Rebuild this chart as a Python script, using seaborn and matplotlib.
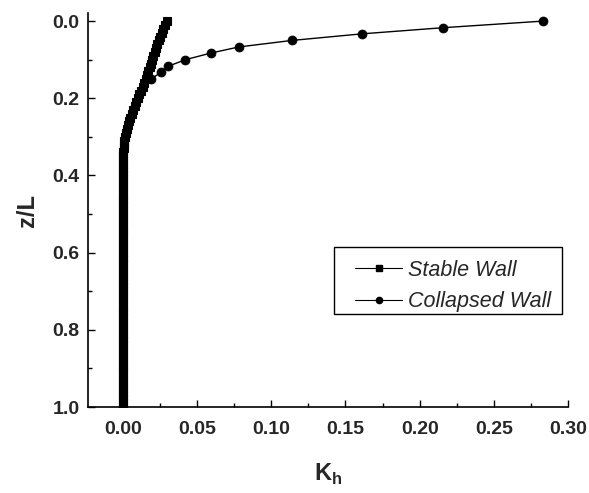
import matplotlib
matplotlib.use("Agg")
import matplotlib.pyplot as plt
import seaborn as sns
import numpy as np
import pandas as pd
from matplotlib.ticker import MultipleLocator
from matplotlib.lines import Line2D
from matplotlib.patches import Rectangle

# Stable wall: K_h sampled every 0.01 in z/L
z_stable = np.round(np.linspace(0.0, 1.0, 101), 2)
k_stable = [0.0295, 0.0284, 0.0273, 0.0262, 0.0251, 0.0240, 0.0231, 0.0222, 0.0213, 0.0204,
            0.0195, 0.0187, 0.0179, 0.0171, 0.0163, 0.0155, 0.0144, 0.0133, 0.0122, 0.0111,
            0.0100, 0.0090, 0.0080, 0.0070, 0.0060, 0.0050, 0.0042, 0.0034, 0.0027, 0.0021,
            0.0015, 0.0010, 0.0006, 0.0004, 0.0003, 0.0002] + [0.0] * 65

# Collapsed wall
z_collapsed = [0.0, 0.017, 0.033, 0.050, 0.067, 0.083, 0.100, 0.117, 0.133, 0.150]
k_collapsed = [0.283, 0.216, 0.161, 0.114, 0.078, 0.059, 0.042, 0.0305, 0.0255, 0.019]

x_ticks = [0.00, 0.05, 0.10, 0.15, 0.20, 0.25, 0.30]
y_ticks = [0.0, 0.2, 0.4, 0.6, 0.8, 1.0]
series_names = ["Stable Wall", "Collapsed Wall"]

stable = pd.DataFrame({"K": k_stable, "z": z_stable})
collapsed = pd.DataFrame({"K": k_collapsed, "z": z_collapsed})

sns.set_theme(style="ticks")
plt.rcParams["font.family"] = ["Liberation Sans", "DejaVu Sans"]
plt.rcParams["mathtext.fontset"] = "custom"
plt.rcParams["mathtext.rm"] = "Liberation Sans:bold"
plt.rcParams["mathtext.bf"] = "Liberation Sans:bold"

fig = plt.figure(figsize=(5.89, 4.93), dpi=100)
ax = fig.add_axes([0.1494, 0.1744, 0.8149, 0.7992])

sns.lineplot(data=collapsed, x="K", y="z", sort=False, estimator=None, ax=ax,
             color="black", linewidth=1.0, marker="o", markersize=6.5,
             markeredgecolor="black", markeredgewidth=0.5, zorder=2)
sns.lineplot(data=stable, x="K", y="z", sort=False, estimator=None, ax=ax,
             color="black", linewidth=1.0, marker="s", markersize=6.3,
             markeredgecolor="black", markeredgewidth=0.8, zorder=3)

ax.set_xlim(-0.0236, 0.30)
ax.set_ylim(1.0, -0.021)
ax.set_xticks(x_ticks)
ax.set_yticks(y_ticks)
ax.set_xticklabels([f"{v:.2f}" for v in x_ticks])
ax.set_yticklabels([f"{v:.1f}" for v in y_ticks])
ax.xaxis.set_minor_locator(MultipleLocator(0.025))
ax.yaxis.set_minor_locator(MultipleLocator(0.1))

ax.tick_params(which="both", direction="in", width=1.0, color="black", top=False, right=False)
ax.tick_params(which="major", length=5, labelsize=14)
ax.tick_params(which="minor", length=3)
ax.tick_params(axis="x", which="major", pad=10)
ax.tick_params(axis="y", which="major", pad=6)
for lab in ax.get_xticklabels() + ax.get_yticklabels():
    lab.set_fontweight("bold")

for side in ("top", "right"):
    ax.spines[side].set_visible(False)
for side in ("left", "bottom"):
    ax.spines[side].set_linewidth(1.2)
    ax.spines[side].set_color("black")

ax.set_xlabel(r"$\mathbf{K}_{\mathbf{h}}$", fontsize=17, labelpad=17)
ax.set_ylabel("z/L", fontsize=17, fontweight="bold", labelpad=10)

# Legend box drawn as a plain rectangle, entries placed inside it
ax.add_patch(Rectangle((0.5125, 0.236), 0.475, 0.170, transform=ax.transAxes,
                       fill=False, edgecolor="black", linewidth=1.0, zorder=5))
handles = [
    Line2D([], [], color="black", linewidth=0.8, marker="s", markersize=4.5),
    Line2D([], [], color="black", linewidth=0.8, marker="o", markersize=4.5),
]
leg = ax.legend(handles, series_names, loc="upper left",
                bbox_to_anchor=(0.556, 0.374), borderaxespad=0, borderpad=0,
                prop={"style": "italic", "size": 15.5}, frameon=False,
                handlelength=2.2, handletextpad=0.28, labelspacing=0.5)

fig.savefig("out.png", dpi=100)
